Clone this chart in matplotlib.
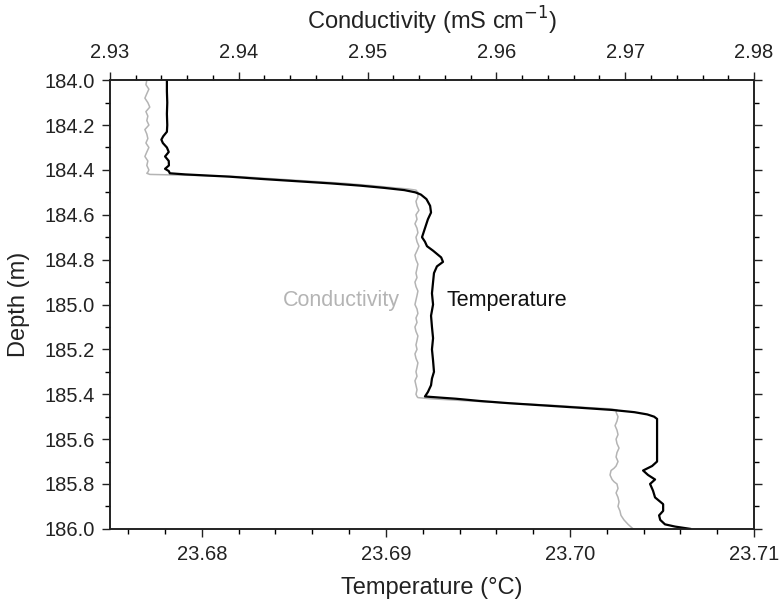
import matplotlib
matplotlib.use("Agg")
import matplotlib.pyplot as plt
from matplotlib.ticker import MultipleLocator

plt.rcParams["font.family"] = ["Liberation Sans", "DejaVu Sans"]

# 温度剖面（黑线）：深度 m / 温度 °C
temp_depth = [184.00, 184.05, 184.10, 184.15, 184.20, 184.23, 184.25, 184.265, 184.28, 184.30,
              184.32, 184.34, 184.36, 184.38, 184.395, 184.405, 184.415, 184.42, 184.43, 184.44,
              184.45, 184.46, 184.47, 184.48, 184.49, 184.50, 184.51, 184.53, 184.56, 184.59,
              184.62, 184.66, 184.70, 184.72, 184.74, 184.76, 184.79, 184.81, 184.83, 184.86,
              184.90, 184.95, 185.00, 185.05, 185.10, 185.15, 185.20, 185.25, 185.30, 185.33,
              185.36, 185.39, 185.41, 185.415, 185.42, 185.43, 185.44, 185.45, 185.46, 185.47,
              185.48, 185.49, 185.50, 185.51, 185.58, 185.64, 185.70, 185.72, 185.74, 185.76,
              185.78, 185.80, 185.83, 185.86, 185.89, 185.92, 185.94, 185.96, 185.98, 185.99,
              186.00]
temp_val = [23.6781, 23.6781, 23.67812, 23.6781, 23.67812, 23.6781, 23.6779, 23.6778, 23.67788, 23.6781,
            23.6782, 23.6780, 23.6782, 23.67821, 23.6780, 23.6782, 23.67826, 23.6791, 23.6815, 23.6832,
            23.6851, 23.6870, 23.6886, 23.6899, 23.6910, 23.6916, 23.6919, 23.6922, 23.6924, 23.69245,
            23.69228, 23.69212, 23.69196, 23.69212, 23.69223, 23.69256, 23.6930, 23.6931, 23.69277, 23.69261,
            23.69256, 23.6925, 23.69256, 23.69245, 23.6925, 23.69256, 23.6925, 23.69256, 23.69261, 23.6925,
            23.69245, 23.69228, 23.69212, 23.69294, 23.6938, 23.6951, 23.6967, 23.6986, 23.7005, 23.7023,
            23.7035, 23.7042, 23.70457, 23.70473, 23.70473, 23.70473, 23.70473, 23.70446, 23.70397, 23.70424,
            23.70462, 23.70435, 23.70451, 23.70462, 23.70506, 23.70506, 23.70484, 23.7049, 23.70516, 23.70571,
            23.70652]

# 电导率剖面（灰线）：深度 m / 电导率 mS cm-1
cond_depth = [184.00, 184.02, 184.04, 184.06, 184.08, 184.10, 184.12, 184.14, 184.16, 184.18,
              184.20, 184.22, 184.24, 184.26, 184.28, 184.30, 184.32, 184.34, 184.36, 184.38,
              184.40, 184.41, 184.415, 184.42, 184.425, 184.43, 184.44, 184.45, 184.46, 184.47,
              184.48, 184.485, 184.49, 184.50,
              184.52, 184.54, 184.56, 184.58, 184.60, 184.62, 184.64, 184.66, 184.68, 184.70,
              184.72, 184.74, 184.76, 184.78, 184.80, 184.82, 184.84, 184.86, 184.88, 184.90,
              184.92, 184.94, 184.96, 184.98, 185.00, 185.02, 185.04, 185.06, 185.08, 185.10,
              185.12, 185.14, 185.16, 185.18, 185.20, 185.22, 185.24, 185.26, 185.28, 185.30,
              185.32, 185.34, 185.36, 185.38, 185.40, 185.41, 185.415,
              185.42, 185.43, 185.44, 185.45, 185.46, 185.465, 185.47,
              185.48, 185.50, 185.52, 185.54, 185.56, 185.58, 185.60, 185.62, 185.64, 185.66,
              185.68, 185.70, 185.72, 185.73, 185.74, 185.76, 185.78, 185.79, 185.80, 185.82,
              185.84, 185.86, 185.88, 185.90, 185.92, 185.94, 185.96, 185.98, 186.00]
cond_val = [2.93287, 2.93280, 2.93303, 2.93287, 2.93272, 2.93295, 2.93310, 2.93280, 2.93295, 2.93287,
            2.93303, 2.93272, 2.93287, 2.93295, 2.93280, 2.93303, 2.93287, 2.93272, 2.93295, 2.93287,
            2.93303, 2.93295, 2.93287, 2.93310, 2.93699, 2.94009, 2.94281, 2.94553, 2.94825, 2.95034,
            2.95213, 2.95314, 2.95376, 2.95391,
            2.95391, 2.95376, 2.95384, 2.95399, 2.95376, 2.95384, 2.95368, 2.95384, 2.95391, 2.95376,
            2.95384, 2.95399, 2.95384, 2.95368, 2.95376, 2.95391, 2.95384, 2.95376, 2.95384, 2.95368,
            2.95376, 2.95391, 2.95384, 2.95376, 2.95368, 2.95384, 2.95391, 2.95376, 2.95384, 2.95368,
            2.95376, 2.95391, 2.95384, 2.95376, 2.95384, 2.95368, 2.95376, 2.95391, 2.95384, 2.95376,
            2.95384, 2.95368, 2.95376, 2.95384, 2.95376, 2.95384, 2.95391,
            2.95484, 2.95795, 2.96106, 2.96455, 2.96727, 2.96882, 2.96936,
            2.96929, 2.96944, 2.96936, 2.96921, 2.96936, 2.96944, 2.96929, 2.96936, 2.96952, 2.96936,
            2.96929, 2.96944, 2.96929, 2.96913, 2.96890, 2.96882, 2.96898, 2.96913, 2.96936, 2.96944,
            2.96929, 2.96944, 2.96952, 2.96944, 2.96959, 2.96967, 2.96990, 2.97022, 2.97061]

fig = plt.figure(figsize=(7.79, 6.03), dpi=100)
ax = fig.add_axes([0.141, 0.123, 0.827, 0.744])
ax2 = ax.twiny()

# 灰线画在下层
ax2.plot(cond_val, cond_depth, color="#b4b4b4", linewidth=1.1)
ax.plot(temp_val, temp_depth, color="black", linewidth=1.6)
ax.set_zorder(ax2.get_zorder() + 1)
ax.patch.set_visible(False)

ax.set_xlim(23.675, 23.710)
ax.set_ylim(186.0, 184.0)
ax2.set_xlim(2.93, 2.98)

ax.xaxis.set_major_locator(MultipleLocator(0.01))
ax.xaxis.set_minor_locator(MultipleLocator(0.002))
ax.yaxis.set_major_locator(MultipleLocator(0.2))
ax.yaxis.set_minor_locator(MultipleLocator(0.1))
ax2.xaxis.set_major_locator(MultipleLocator(0.01))
ax2.xaxis.set_minor_locator(MultipleLocator(0.002))
ax.xaxis.set_major_formatter(lambda v, p: f"{v:.2f}")
ax.yaxis.set_major_formatter(lambda v, p: f"{v:.1f}")
ax2.xaxis.set_major_formatter(lambda v, p: f"{v:.2f}")

for a in (ax, ax2):
    a.tick_params(which="major", direction="out", length=6, width=1.0, labelsize=14.5,
                  colors="#222222", pad=5)
    a.tick_params(which="minor", direction="out", length=3.5, width=1.0)
    for s in a.spines.values():
        s.set_linewidth(1.2)
        s.set_color("#222222")
ax.tick_params(which="both", right=True, labelright=False)
ax.tick_params(axis="x", which="major", pad=6)
ax2.tick_params(axis="x", which="major", pad=7)

ax.set_xlabel("Temperature (°C)", fontsize=17, labelpad=9, color="#222222")
ax.set_ylabel("Depth (m)", fontsize=17, labelpad=10, color="#222222")
ax2.set_xlabel("Conductivity (mS cm$^{-1}$)", fontsize=17, labelpad=10, color="#222222")

ax.text(23.6876, 184.98, "Conductivity", color="#b4b4b4", fontsize=15.5, ha="center", va="center")
ax.text(23.6933, 184.98, "Temperature", color="#111111", fontsize=15.5, ha="left", va="center")

fig.savefig("out.png", dpi=100)
